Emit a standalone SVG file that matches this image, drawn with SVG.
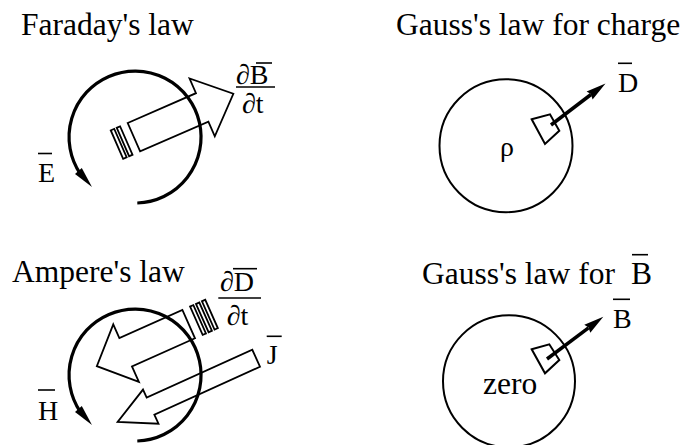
<svg xmlns="http://www.w3.org/2000/svg" width="686" height="445" viewBox="0 0 686 445">
<style>
text{font-family:"Liberation Serif","Times New Roman",serif;fill:#000}
.title{font-size:31.5px}
.lbl{font-size:28px}
.bar{stroke:#000;stroke-width:1.6}
.block{fill:#fff;stroke:#000;stroke-width:1.8;stroke-linejoin:miter}
.loop{fill:none;stroke:#000;stroke-width:3.2}
.surf{fill:none;stroke:#000;stroke-width:2}
.patch{fill:#fff;stroke:#000;stroke-width:2}
.vec{stroke:#000;stroke-width:3.5}
</style>
<rect width="686" height="445" fill="#fff"/>

<g id="faraday">
  <text class="title" x="21" y="35">Faraday's law</text>
  <g transform="translate(130,122) rotate(-23.6)">
    <rect class="block" x="-21" y="0" width="3.8" height="31"/>
    <rect class="block" x="-14.5" y="0" width="3.7" height="31"/>
    <polygon class="block" points="-2.5,0 72,0 72,-16 106,15.5 72,47 72,31 -2.5,31"/>
  </g>
  <path class="loop" d="M137.3,203 A66,66 0 1 0 80.3,173.9"/>
  <polygon points="92,187 81.8,168.1 75,173.9" fill="#000"/>
  <text class="lbl" x="38" y="182">E</text>
  <line class="bar" x1="38" y1="153.5" x2="52" y2="153.5"/>
  <text class="lbl" x="236" y="84">∂B</text>
  <line class="bar" x1="256" y1="63" x2="272" y2="63"/>
  <line class="bar" x1="236" y1="87" x2="275" y2="87"/>
  <text class="lbl" x="242" y="113">∂t</text>
</g>

<g id="gauss-charge">
  <text class="title" x="396" y="35">Gauss's law for charge</text>
  <circle class="surf" cx="506" cy="145.7" r="66.5"/>
  <polygon class="patch" points="531.7,119.3 550,114.3 559.3,130.7 545,144"/>
  <line class="vec" x1="551" y1="125" x2="591" y2="94.5"/>
  <polygon points="605.5,83.5 592.6,99.6 590.8,94 586.6,91.6" fill="#000"/>
  <text class="lbl" x="500" y="156">ρ</text>
  <text class="lbl" x="618" y="91.7">D</text>
  <line class="bar" x1="618" y1="63.3" x2="632" y2="63.3"/>
</g>

<g id="ampere">
  <text class="title" x="12" y="282">Ampere's law</text>
  <g transform="translate(195,338.3) rotate(156)">
    <rect class="block" x="-25" y="0" width="3.6" height="31"/>
    <rect class="block" x="-18.5" y="0" width="3.6" height="31"/>
    <rect class="block" x="-12" y="0" width="3.6" height="31"/>
    <polygon class="block" points="0,0 69,0 69,-17 101,14.5 69,46 69,31 0,31"/>
  </g>
  <g transform="translate(260,366.7) rotate(155.6)">
    <polygon class="block" points="0,0 116,0 116,-10 152.5,8.5 116,27.5 116,18.6 0,18.6"/>
  </g>
  <path class="loop" d="M137.3,441 A66,66 0 1 0 80.3,411.9"/>
  <polygon points="92,425 81.8,406.1 75,411.9" fill="#000"/>
  <text class="lbl" x="38" y="419.5">H</text>
  <line class="bar" x1="38" y1="390" x2="55" y2="390"/>
  <text class="lbl" x="220" y="291">∂D</text>
  <line class="bar" x1="233" y1="268.7" x2="257" y2="268.7"/>
  <line class="bar" x1="218.3" y1="298" x2="261" y2="298"/>
  <text class="lbl" x="226.7" y="325">∂t</text>
  <text class="lbl" x="266.7" y="363.7">J</text>
  <line class="bar" x1="266.7" y1="336.3" x2="281.7" y2="336.3"/>
</g>

<g id="gauss-b">
  <text class="title" x="422" y="284">Gauss's law for</text>
  <text class="title" x="631" y="284">B</text>
  <line class="bar" x1="632" y1="254.7" x2="648" y2="254.7"/>
  <circle class="surf" cx="509" cy="381.3" r="66"/>
  <polygon class="patch" points="531.7,349.3 549.3,344.3 559.3,360 545,373.3"/>
  <line class="vec" x1="547" y1="359" x2="588.5" y2="327.8"/>
  <polygon points="603.3,316.7 590.3,332.7 588.5,327.5 584.3,324.7" fill="#000"/>
  <text class="title" x="483" y="393.5">zero</text>
  <text class="lbl" x="613" y="328">B</text>
  <line class="bar" x1="613" y1="299.3" x2="630" y2="299.3"/>
</g>
</svg>
